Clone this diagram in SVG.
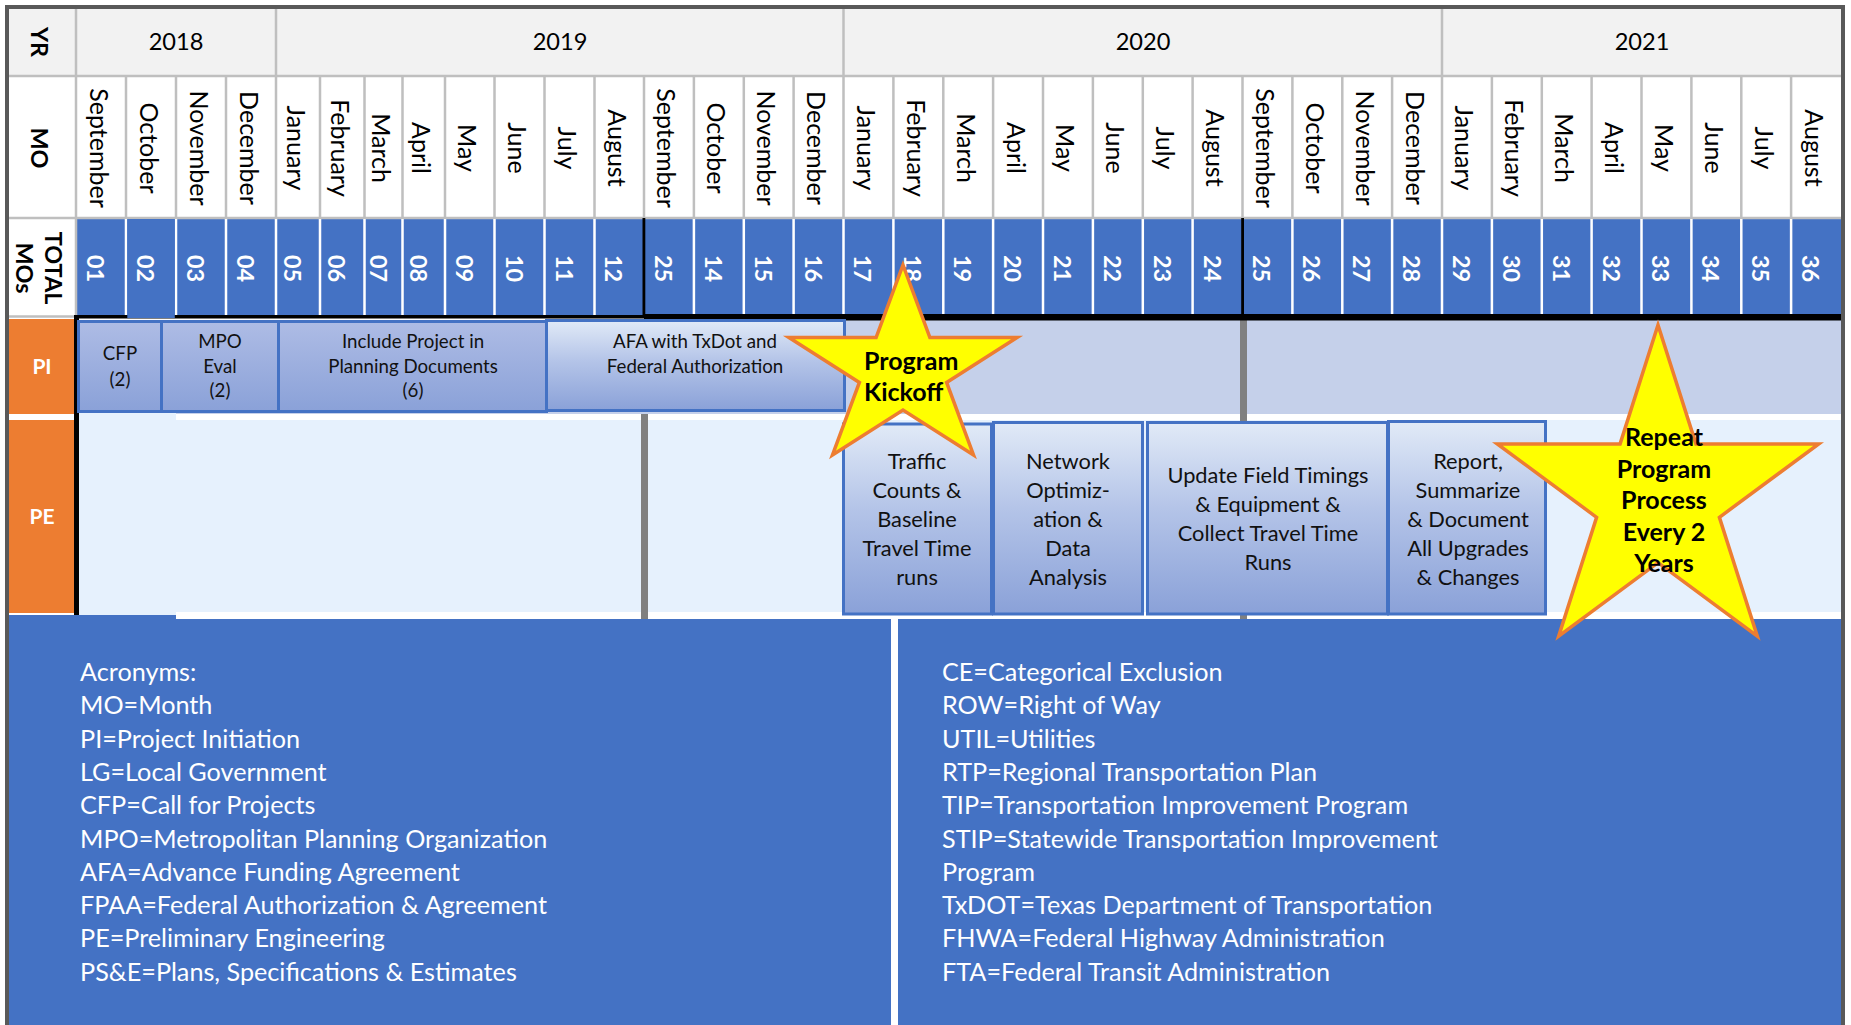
<svg xmlns="http://www.w3.org/2000/svg" width="1851" height="1025" viewBox="0 0 1851 1025">
<defs>
<linearGradient id="gPI" x1="0" y1="0" x2="0" y2="1"><stop offset="0" stop-color="#AEBCE5"/><stop offset="1" stop-color="#8AA1D8"/></linearGradient>
<linearGradient id="gLt" x1="0" y1="0" x2="0" y2="1"><stop offset="0" stop-color="#E1EAF7"/><stop offset="0.45" stop-color="#B4C4E8"/><stop offset="1" stop-color="#8AA1D8"/></linearGradient>
<style>
text{font-family:Lato,"Liberation Sans",sans-serif;fill:#000}
.yr{font-size:23.6px;text-anchor:middle}
.mo{font-size:25px;text-anchor:middle}
.num{font-size:23.5px;font-weight:bold;fill:#fff;text-anchor:middle}
.lbl{font-size:23.4px;font-weight:bold;text-anchor:middle}
.rl{font-size:21px;font-weight:bold;fill:#fff;text-anchor:middle}
.bx{fill:url(#gPI);stroke:#4472C4;stroke-width:3}
.bl{fill:url(#gLt);stroke:#4472C4;stroke-width:3}
.bt{font-size:18.7px;text-anchor:middle;fill:#111}
.pt{font-size:21.8px;text-anchor:middle;fill:#111}
.star{fill:#FFFF00;stroke:#ED7D31;stroke-width:3.5;stroke-linejoin:miter}
.st{font-size:25px;font-weight:bold}
.acr{font-size:25.2px;fill:#fff}
.gl{stroke:#BFBFBF;stroke-width:2.5}
.wl{stroke:#fff;stroke-width:2.5}
</style>
</defs>
<rect x="0" y="0" width="1851" height="1025" fill="#fff"/>

<g id="header">
<rect x="9" y="9" width="1832" height="67" fill="#F2F2F2"/>
<rect x="76" y="219" width="1765" height="96" fill="#4472C4"/>
<g id="grid-lines">
<line class="gl" x1="9" y1="76" x2="1841" y2="76"/>
<line class="gl" x1="9" y1="218" x2="1841" y2="218"/>
<line class="gl" x1="9" y1="316.5" x2="74" y2="316.5"/>
<line class="gl" x1="76" y1="9" x2="76" y2="315"/>
<line class="gl" x1="276" y1="9" x2="276" y2="76"/>
<line class="gl" x1="843.5" y1="9" x2="843.5" y2="76"/>
<line class="gl" x1="1442" y1="9" x2="1442" y2="76"/>
<path class="gl" d="M126 76V218M176 76V218M226 76V218M276 76V218M320 76V218M364.5 76V218M402.5 76V218M445 76V218M494.5 76V218M544.5 76V218M594.5 76V218M644 76V218M693.9 76V218M743.8 76V218M793.6 76V218M843.5 76V218M893.4 76V218M943.3 76V218M993.1 76V218M1043 76V218M1092.9 76V218M1142.8 76V218M1192.6 76V218M1242.5 76V218M1292.4 76V218M1342.3 76V218M1392.1 76V218M1442 76V218M1491.9 76V218M1541.8 76V218M1591.6 76V218M1641.5 76V218M1691.4 76V218M1741.3 76V218M1791.1 76V218"/>
<path class="wl" d="M126 219V315M176 219V315M226 219V315M276 219V315M320 219V315M364.5 219V315M402.5 219V315M445 219V315M494.5 219V315M544.5 219V315M594.5 219V315M693.9 219V315M743.8 219V315M793.6 219V315M843.5 219V315M893.4 219V315M943.3 219V315M993.1 219V315M1043 219V315M1092.9 219V315M1142.8 219V315M1192.6 219V315M1292.4 219V315M1342.3 219V315M1392.1 219V315M1442 219V315M1491.9 219V315M1541.8 219V315M1591.6 219V315M1641.5 219V315M1691.4 219V315M1741.3 219V315M1791.1 219V315"/>
</g>
<text class="lbl" transform="translate(31,42) rotate(90)">YR</text>
<text class="lbl" transform="translate(31,148) rotate(90)">MO</text>
<text class="lbl" transform="translate(45,268) rotate(90)">TOTAL</text>
<text class="lbl" transform="translate(16,268) rotate(90)">MOs</text>
<text class="yr" x="176" y="50">2018</text>
<text class="yr" x="560" y="50">2019</text>
<text class="yr" x="1143" y="50">2020</text>
<text class="yr" x="1642" y="50">2021</text>
<g id="months">
<text class="mo" transform="translate(89.5,148) rotate(90)">September</text>
<text class="mo" transform="translate(139.5,148) rotate(90)">October</text>
<text class="mo" transform="translate(189.5,148) rotate(90)">November</text>
<text class="mo" transform="translate(239.5,148) rotate(90)">December</text>
<text class="mo" transform="translate(286.5,148) rotate(90)">January</text>
<text class="mo" transform="translate(330.8,148) rotate(90)">February</text>
<text class="mo" transform="translate(372,148) rotate(90)">March</text>
<text class="mo" transform="translate(412.3,148) rotate(90)">April</text>
<text class="mo" transform="translate(458.3,148) rotate(90)">May</text>
<text class="mo" transform="translate(508,148) rotate(90)">June</text>
<text class="mo" transform="translate(558,148) rotate(90)">July</text>
<text class="mo" transform="translate(607.8,148) rotate(90)">August</text>
<text class="mo" transform="translate(657.4,148) rotate(90)">September</text>
<text class="mo" transform="translate(707.3,148) rotate(90)">October</text>
<text class="mo" transform="translate(757.2,148) rotate(90)">November</text>
<text class="mo" transform="translate(807.1,148) rotate(90)">December</text>
<text class="mo" transform="translate(856.9,148) rotate(90)">January</text>
<text class="mo" transform="translate(906.8,148) rotate(90)">February</text>
<text class="mo" transform="translate(956.7,148) rotate(90)">March</text>
<text class="mo" transform="translate(1006.6,148) rotate(90)">April</text>
<text class="mo" transform="translate(1056.4,148) rotate(90)">May</text>
<text class="mo" transform="translate(1106.3,148) rotate(90)">June</text>
<text class="mo" transform="translate(1156.2,148) rotate(90)">July</text>
<text class="mo" transform="translate(1206.1,148) rotate(90)">August</text>
<text class="mo" transform="translate(1255.9,148) rotate(90)">September</text>
<text class="mo" transform="translate(1305.8,148) rotate(90)">October</text>
<text class="mo" transform="translate(1355.7,148) rotate(90)">November</text>
<text class="mo" transform="translate(1405.6,148) rotate(90)">December</text>
<text class="mo" transform="translate(1455.4,148) rotate(90)">January</text>
<text class="mo" transform="translate(1505.3,148) rotate(90)">February</text>
<text class="mo" transform="translate(1555.2,148) rotate(90)">March</text>
<text class="mo" transform="translate(1605.1,148) rotate(90)">April</text>
<text class="mo" transform="translate(1654.9,148) rotate(90)">May</text>
<text class="mo" transform="translate(1704.8,148) rotate(90)">June</text>
<text class="mo" transform="translate(1754.7,148) rotate(90)">July</text>
<text class="mo" transform="translate(1804.6,148) rotate(90)">August</text>
</g>
</g>

<g id="rows">
<rect x="79" y="320" width="1762" height="94" fill="#C5D0EA"/>
<rect x="79" y="420" width="1762" height="192" fill="#E6F1FD"/>
<rect x="79" y="413" width="97" height="202" fill="#E6F1FD"/>
<rect x="641" y="414" width="7" height="205" fill="#808080"/>
<rect x="1240" y="320" width="7" height="299" fill="#808080"/>
<rect x="9" y="319" width="65" height="95" fill="#ED7D31"/>
<rect x="9" y="420" width="65" height="193" fill="#ED7D31"/>
<text class="rl" x="42" y="374">PI</text>
<text class="rl" x="42" y="523.5">PE</text>
</g>

<g id="rules">
<rect x="74" y="315" width="570" height="3.5" fill="#000"/>
<rect x="644" y="314" width="1201" height="6.5" fill="#000"/>
<rect x="74" y="315" width="5" height="302" fill="#000"/>
<rect x="642.5" y="218" width="2.8" height="100" fill="#000"/>
<rect x="1241.2" y="218" width="2.8" height="100" fill="#000"/>
<rect x="127.3" y="219" width="47.5" height="99" fill="#4472C4"/>
</g>

<g id="numbers">
<text class="num" transform="translate(87,268.5) rotate(90)">01</text>
<text class="num" transform="translate(137,268.5) rotate(90)">02</text>
<text class="num" transform="translate(187,268.5) rotate(90)">03</text>
<text class="num" transform="translate(237,268.5) rotate(90)">04</text>
<text class="num" transform="translate(284,268.5) rotate(90)">05</text>
<text class="num" transform="translate(328.3,268.5) rotate(90)">06</text>
<text class="num" transform="translate(369.5,268.5) rotate(90)">07</text>
<text class="num" transform="translate(409.8,268.5) rotate(90)">08</text>
<text class="num" transform="translate(455.8,268.5) rotate(90)">09</text>
<text class="num" transform="translate(505.5,268.5) rotate(90)">10</text>
<text class="num" transform="translate(555.5,268.5) rotate(90)">11</text>
<text class="num" transform="translate(605.3,268.5) rotate(90)">12</text>
<text class="num" transform="translate(654.9,268.5) rotate(90)">25</text>
<text class="num" transform="translate(704.8,268.5) rotate(90)">14</text>
<text class="num" transform="translate(754.7,268.5) rotate(90)">15</text>
<text class="num" transform="translate(804.6,268.5) rotate(90)">16</text>
<text class="num" transform="translate(854.4,268.5) rotate(90)">17</text>
<text class="num" transform="translate(904.3,268.5) rotate(90)">18</text>
<text class="num" transform="translate(954.2,268.5) rotate(90)">19</text>
<text class="num" transform="translate(1004.1,268.5) rotate(90)">20</text>
<text class="num" transform="translate(1053.9,268.5) rotate(90)">21</text>
<text class="num" transform="translate(1103.8,268.5) rotate(90)">22</text>
<text class="num" transform="translate(1153.7,268.5) rotate(90)">23</text>
<text class="num" transform="translate(1203.6,268.5) rotate(90)">24</text>
<text class="num" transform="translate(1253.4,268.5) rotate(90)">25</text>
<text class="num" transform="translate(1303.3,268.5) rotate(90)">26</text>
<text class="num" transform="translate(1353.2,268.5) rotate(90)">27</text>
<text class="num" transform="translate(1403.1,268.5) rotate(90)">28</text>
<text class="num" transform="translate(1452.9,268.5) rotate(90)">29</text>
<text class="num" transform="translate(1502.8,268.5) rotate(90)">30</text>
<text class="num" transform="translate(1552.7,268.5) rotate(90)">31</text>
<text class="num" transform="translate(1602.6,268.5) rotate(90)">32</text>
<text class="num" transform="translate(1652.4,268.5) rotate(90)">33</text>
<text class="num" transform="translate(1702.3,268.5) rotate(90)">34</text>
<text class="num" transform="translate(1752.2,268.5) rotate(90)">35</text>
<text class="num" transform="translate(1802.1,268.5) rotate(90)">36</text>
</g>

<g id="bottom-panels">
<rect x="9" y="619" width="882" height="406" fill="#4472C4"/>
<rect x="9" y="615" width="167" height="5" fill="#4472C4"/>
<rect x="898" y="619" width="943" height="406" fill="#4472C4"/>
</g>

<g id="frame" fill="#595959">
<rect x="5" y="5" width="1840" height="4"/>
<rect x="5" y="5" width="4" height="1020"/>
<rect x="1841" y="5" width="4" height="1020"/>
</g>

<g id="node-cfp">
<rect class="bx" x="78.5" y="321.5" width="83" height="90"/>
<text class="bt" x="120" y="360">CFP</text>
<text class="bt" x="120" y="386">(2)</text>
</g>
<g id="node-mpo">
<rect class="bx" x="161.5" y="321.5" width="117" height="90"/>
<text class="bt" x="220" y="348">MPO</text>
<text class="bt" x="220" y="372.5">Eval</text>
<text class="bt" x="220" y="397">(2)</text>
</g>
<g id="node-include">
<rect class="bx" x="278.5" y="321.5" width="268" height="90"/>
<text class="bt" x="413" y="348">Include Project in</text>
<text class="bt" x="413" y="372.5">Planning Documents</text>
<text class="bt" x="413" y="397">(6)</text>
</g>
<g id="node-afa">
<rect class="bl" x="546.5" y="320.5" width="298" height="90"/>
<text class="bt" x="695" y="348">AFA with TxDot and</text>
<text class="bt" x="695" y="372.5">Federal Authorization</text>
</g>

<g id="node-traffic">
<rect class="bl" x="843.5" y="424" width="148" height="190"/>
<text class="pt" x="917" y="469">Traffic</text>
<text class="pt" x="917" y="498">Counts &amp;</text>
<text class="pt" x="917" y="527">Baseline</text>
<text class="pt" x="917" y="556">Travel Time</text>
<text class="pt" x="917" y="585">runs</text>
</g>
<g id="node-network">
<rect class="bl" x="993.5" y="422.5" width="149" height="191.5"/>
<text class="pt" x="1068" y="469">Network</text>
<text class="pt" x="1068" y="498">Optimiz-</text>
<text class="pt" x="1068" y="527">ation &amp;</text>
<text class="pt" x="1068" y="556">Data</text>
<text class="pt" x="1068" y="585">Analysis</text>
</g>
<g id="node-update">
<rect class="bl" x="1147.5" y="422.5" width="240" height="191.5"/>
<text class="pt" x="1268" y="483">Update Field Timings</text>
<text class="pt" x="1268" y="512">&amp; Equipment &amp;</text>
<text class="pt" x="1268" y="541">Collect Travel Time</text>
<text class="pt" x="1268" y="569.5">Runs</text>
</g>
<g id="node-report">
<rect class="bl" x="1388.5" y="421.5" width="157" height="192.5"/>
<text class="pt" x="1468" y="468.5">Report,</text>
<text class="pt" x="1468" y="497.5">Summarize</text>
<text class="pt" x="1468" y="527">&amp; Document</text>
<text class="pt" x="1468" y="555.5">All Upgrades</text>
<text class="pt" x="1468" y="584.5">&amp; Changes</text>
</g>

<g id="node-kickoff">
<polygon class="star" points="903,265 929.9,337.6 1017.1,337.6 946.6,382.4 973.5,454.9 903,410.1 832.5,454.9 859.4,382.4 788.9,337.6 876.1,337.6"/>
<text class="st" x="864" y="370">Program</text>
<text class="st" x="864" y="401">Kickoff</text>
</g>
<g id="node-repeat">
<polygon class="star" points="1658,325 1695.9,443.9 1818.7,443.9 1719.4,517.3 1757.3,636.1 1658,562.7 1558.7,636.1 1596.6,517.3 1497.3,443.9 1620.1,443.9"/>
<text class="st" x="1664" y="446" text-anchor="middle">Repeat</text>
<text class="st" x="1664" y="477.5" text-anchor="middle">Program</text>
<text class="st" x="1664" y="509" text-anchor="middle">Process</text>
<text class="st" x="1664" y="540.5" text-anchor="middle">Every 2</text>
<text class="st" x="1664" y="572" text-anchor="middle">Years</text>
</g>

<g id="acronyms-left">
<text class="acr" x="80" y="681">Acronyms:</text>
<text class="acr" x="80" y="714.3">MO=Month</text>
<text class="acr" x="80" y="747.6">PI=Project Initiation</text>
<text class="acr" x="80" y="780.9">LG=Local Government</text>
<text class="acr" x="80" y="814.2">CFP=Call for Projects</text>
<text class="acr" x="80" y="847.5">MPO=Metropolitan Planning Organization</text>
<text class="acr" x="80" y="880.8">AFA=Advance Funding Agreement</text>
<text class="acr" x="80" y="914.1">FPAA=Federal Authorization &amp; Agreement</text>
<text class="acr" x="80" y="947.4">PE=Preliminary Engineering</text>
<text class="acr" x="80" y="980.7">PS&amp;E=Plans, Specifications &amp; Estimates</text>
</g>
<g id="acronyms-right">
<text class="acr" x="942" y="681">CE=Categorical Exclusion</text>
<text class="acr" x="942" y="714.3">ROW=Right of Way</text>
<text class="acr" x="942" y="747.6">UTIL=Utilities</text>
<text class="acr" x="942" y="780.9">RTP=Regional Transportation Plan</text>
<text class="acr" x="942" y="814.2">TIP=Transportation Improvement Program</text>
<text class="acr" x="942" y="847.5">STIP=Statewide Transportation Improvement</text>
<text class="acr" x="942" y="880.8">Program</text>
<text class="acr" x="942" y="914.1">TxDOT=Texas Department of Transportation</text>
<text class="acr" x="942" y="947.4">FHWA=Federal Highway Administration</text>
<text class="acr" x="942" y="980.7">FTA=Federal Transit Administration</text>
</g>
<g id="connectors"/>
</svg>
